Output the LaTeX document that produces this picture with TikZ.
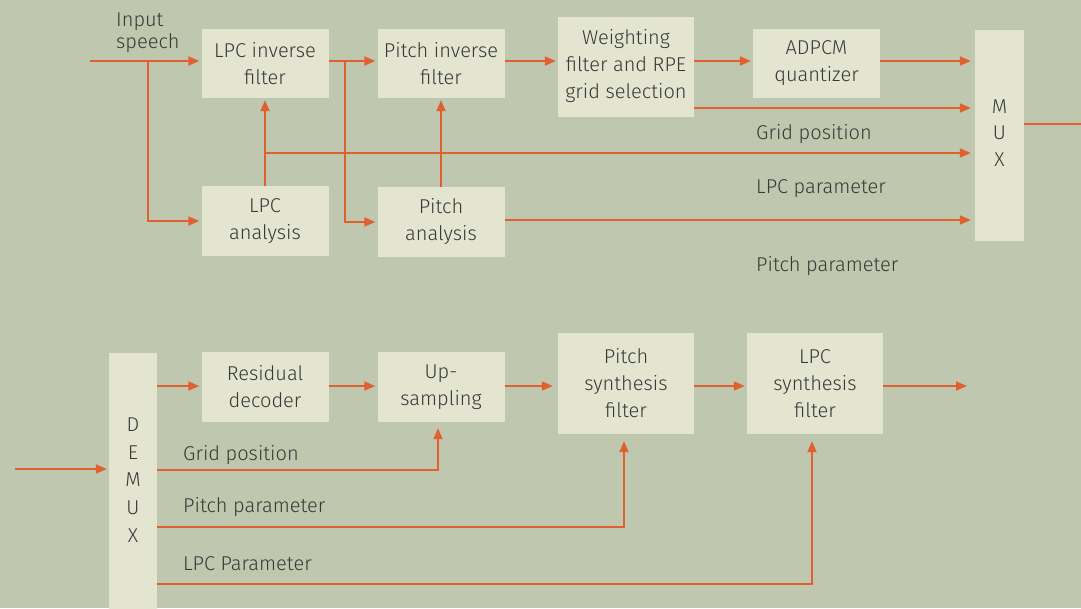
\documentclass[tikz,border=0pt]{standalone}
\usepackage{fontspec}
\setmainfont{Fira Sans Light}
\usetikzlibrary{arrows.meta}
\definecolor{bg}{HTML}{BFC8AE}
\definecolor{boxc}{HTML}{E3E5D1}
\definecolor{ln}{HTML}{E0602F}
\definecolor{tx}{HTML}{383838}
\begin{document}
\begin{tikzpicture}[x=1pt,y=-1pt,
  blk/.style={fill=boxc, draw=none, inner sep=0pt, align=center, text=tx, font=\fontsize{20}{27}\selectfont},
  conn/.style={draw=ln, line width=1.8pt, shorten >=2pt, -{Triangle[length=11pt,width=9pt]}},
  plainln/.style={draw=ln, line width=1.8pt},
  lbl/.style={anchor=base west, text=tx, inner sep=0pt, font=\fontsize{20}{27}\selectfont}]
\useasboundingbox (0,0) rectangle (1081,608);
\fill[bg] (0,0) rectangle (1081,608);
% upper boxes
\node[blk, minimum width=127pt, minimum height=69pt] (lpcinv) at (265,63.5) {LPC inverse\\filter};
\node[blk, minimum width=127pt, minimum height=69pt] (pitchinv) at (441,63.5) {Pitch inverse\\filter};
\node[blk, minimum width=136pt, minimum height=100pt] (wf) at (626,66.5) {Weighting\\filter and RPE\\grid selection};
\node[blk, minimum width=127pt, minimum height=69pt] (adpcm) at (816.5,63.5) {ADPCM\\quantizer};
\node[blk, minimum width=49pt, minimum height=211pt] (mux) at (999.5,135.5) {};
\node[blk, font=\fontsize{20}{26.5}\selectfont] (muxt) at (999.5,133) {M\\U\\X};
\node[blk, minimum width=127pt, minimum height=70pt] (lpcan) at (265,221) {LPC\\analysis};
\node[blk, minimum width=127pt, minimum height=70pt] (pitchan) at (441,222) {Pitch\\analysis};
% lower boxes
\node[blk, minimum width=48pt, minimum height=267pt] (demux) at (133,486.5) {};
\node[blk, font=\fontsize{20}{27.8}\selectfont] (demuxt) at (133,480) {D\\E\\M\\U\\X};
\node[blk, minimum width=127pt, minimum height=70pt] (resdec) at (265,387) {Residual\\decoder};
\node[blk, minimum width=127pt, minimum height=70pt] (ups) at (441,387) {Up-\\sampling};
\node[blk, minimum width=136pt, minimum height=101pt] (ps) at (626,383.5) {Pitch\\synthesis\\filter};
\node[blk, minimum width=136pt, minimum height=101pt] (ls) at (815,383.5) {LPC\\synthesis\\filter};
% labels
\node[lbl, align=left, font=\fontsize{20}{22}\selectfont] (inlbl) at (116,48) {Input\\speech};
\node[lbl] (l1) at (756,139) {Grid position};
\node[lbl] (l2) at (756,193) {LPC parameter};
\node[lbl] (l3) at (756,271) {Pitch parameter};
\node[lbl] (l4) at (183,460.5) {Grid position};
\node[lbl] (l5) at (183,512) {Pitch parameter};
\node[lbl] (l6) at (183,570) {LPC Parameter};
% upper connectors
\coordinate (in1) at (90,61);
\coordinate (b1) at (148,61);
\coordinate (b2) at (345,61);
\coordinate (gpy) at (700,108);
\coordinate (lpy) at (265,153);
\coordinate (ppy) at (600,220);
\coordinate (mo) at (1081,124);
\draw[conn] (in1) -- (in1 -| lpcinv.west);
\draw[conn] (b1) |- (lpcan.west);
\draw[conn] (lpcinv.east |- in1) -- (pitchinv.west |- in1);
\draw[conn] (b2) |- (pitchan.west);
\draw[conn] (pitchinv.east |- in1) -- (wf.west |- in1);
\draw[conn] (wf.east |- in1) -- (adpcm.west |- in1);
\draw[conn, shorten >=4pt] (adpcm.east |- in1) -- (mux.west |- in1);
\draw[conn, shorten >=4pt] (wf.east |- gpy) -- (mux.west |- gpy);
\draw[conn] (lpcan.north) -- (lpcinv.south);
\draw[conn, shorten >=4pt] (lpy) -- (lpy -| mux.west);
\draw[conn] (pitchan.north) -- (pitchinv.south);
\draw[conn, shorten >=4pt] (pitchan.east |- ppy) -- (mux.west |- ppy);
\draw[plainln] (mux.east |- mo) -- (mo);
% lower connectors
\coordinate (in2) at (15,469);
\coordinate (my) at (0,386);
\coordinate (out) at (969,386);
\coordinate (gp) at (438,470);
\coordinate (pp) at (624,527);
\coordinate (lp) at (812,584);
\draw[conn] (in2) -- (in2 -| demux.west);
\draw[conn] (demux.east |- my) -- (resdec.west |- my);
\draw[conn] (resdec.east |- my) -- (ups.west |- my);
\draw[conn, shorten >=5pt] (ups.east |- my) -- (ps.west |- my);
\draw[conn] (ps.east |- my) -- (ls.west |- my);
\draw[conn] (ls.east |- my) -- (out);
\draw[conn, shorten >=6pt] (demux.east |- gp) -- (gp) -- (gp |- ups.south);
\draw[conn, shorten >=7pt] (demux.east |- pp) -- (pp) -- (pp |- ps.south);
\draw[conn, shorten >=7pt] (demux.east |- lp) -- (lp) -- (lp |- ls.south);
\end{tikzpicture}
\end{document}
